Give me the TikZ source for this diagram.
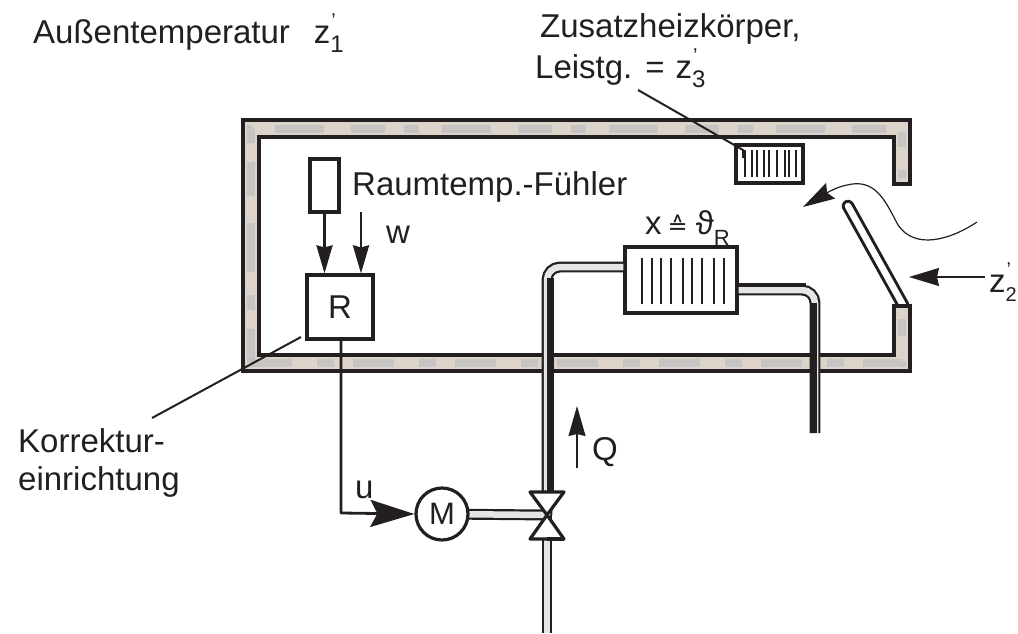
\documentclass[tikz,border=0pt]{standalone}
\usepackage{fontspec}
\setmainfont{Liberation Sans}
\newfontfamily\symfont{DejaVu Sans}
\usetikzlibrary{arrows.meta,positioning,calc}

\definecolor{wallfill}{HTML}{DCD3CB}
\definecolor{wallspot}{HTML}{A9AEBB}
\definecolor{ink}{HTML}{231F20}
\newcommand{\zprime}[2][24]{z\rlap{\raisebox{16pt}{\fontsize{20}{20}\selectfont\hspace{1pt}'}}\raisebox{-9pt}{\fontsize{#1}{#1}\selectfont #2}}

\begin{document}
\begin{tikzpicture}[
  x=1pt, y=-1pt,
  color=ink,
  >={Stealth[length=28pt,width=16pt,inset=2pt]},
  wall/.style={draw, fill=wallfill, line width=3.4pt, line join=miter},
  box/.style={draw, fill=white, line width=3.2pt, inner sep=0pt},
  label/.style={anchor=base west, inner sep=0pt, font=\fontsize{33}{38}\selectfont},
  pipe/.style={line width=2.2pt, double=black!10, double distance=6.5pt, rounded corners=13pt},
  straightpipe/.style={line width=2.2pt, double=black!10, double distance=6.5pt},
  hotpipe/.style={line width=7pt},
  bars/.style={line width=2.4pt},
  signal/.style={->, line width=2.6pt},
  leader/.style={line width=2pt}
]
  \useasboundingbox (0,0) rectangle (1018,633);

  % Flap
  \draw[line width=3pt, double=white, double distance=6.5pt, line cap=round] (848,206) -- (903,305);

  % Walls
  \draw[wall] (243,371) -- (243,120) -- (910,120) -- (910,184) -- (894,184) -- (894,137)
    -- (259,137) -- (259,355) -- (894,355) -- (894,306) -- (910,306) -- (910,371) -- cycle;
  \draw[wallspot, line width=8pt, opacity=.4, dash pattern=on 34pt off 19pt on 15pt off 23pt on 49pt off 27pt]
    (251,363) -- (251,129) -- (902,129) -- (902,178);
  \draw[wallspot, line width=8pt, opacity=.4, dash pattern=on 41pt off 25pt on 17pt off 19pt]
    (251,363) -- (902,363) -- (902,312);

  % Nodes
  \node[box, minimum width=29pt, minimum height=53pt] (sensor) at (324.5,185.5) {};
  \node[box, minimum width=66pt, minimum height=64pt, font=\fontsize{33}{38}\selectfont] (ctrl) at (340,307) {R};
  \node[box, minimum width=112pt, minimum height=66pt] (heater) at (681,280) {};
  \node[box, minimum width=67pt, minimum height=38pt] (extra) at (769.5,164) {};
  \coordinate (motorpos) at (442,514);
  \coordinate (valve) at (547,515);
  \coordinate (setpoint) at (361,212);
  \coordinate (turnu) at (341,513);
  \coordinate (pipeend) at (815,433);
  \coordinate (pipein) at (547,633);

  % Heater bars
  \foreach \barx in {642,652,661,671,683,692,702,714,724}
    \draw[bars] (\barx,258) -- (\barx,304);
  \foreach \barx in {745,752,757,764,769,777,785,789,796}
    \draw[bars] (\barx,150) -- (\barx,177);

  % Pipes
  \draw[pipe] (heater.west|-0,267) -- (547,267) -- (valve);
  \draw[pipe] (heater.east|-0,290) -- (815,290) -- (pipeend);
  \draw[hotpipe] (550.5,278) -- (550.5,493);
  \draw[hotpipe] (813,303) -- (pipeend-|813,0);
  \draw[line width=3.5pt] (heater.east|-0,285) -- (806,285);
  \draw[straightpipe] (pipein) -- (valve);
  \draw[straightpipe] (motorpos) -- (valve);
  \node[box, circle, minimum size=52pt, font=\fontsize{31}{36}\selectfont] (motor) at (motorpos) {M};

  % Valve
  \draw[line width=3.2pt, fill=white, line join=round] (valve) -- ++(-17,-23) -- ++(34,0) -- cycle;
  \draw[line width=3.2pt, fill=white, line join=round] (valve) -- ++(-17,24) -- ++(34,0) -- cycle;
  \draw[line width=4.5pt] (547,539) -- ($(valve)+(17,24)$);

  % Arrows
  \draw[signal] (sensor.south) -- (sensor.south|-ctrl.north);
  \draw[signal] (setpoint) -- (setpoint|-ctrl.north);
  \draw[line width=2.8pt, line join=round, -{Stealth[length=44pt,width=27pt,inset=7pt]}] (ctrl.south-|turnu) -- (turnu) -- (motor.west);
  \draw[->, line width=1.5pt, >={Stealth[length=30pt,width=17pt,inset=2pt]}] (577,468) -- (577,406);
  \draw[->, line width=1.5pt, >={Stealth[length=30pt,width=18pt,inset=2pt]}] (985,277) -- (909,277);
  \draw[->, line width=1.2pt, >={Stealth[length=32pt,width=18pt,inset=4pt]}] (977,222)
    .. controls (950,240) and (915,250) .. (898,225)
    .. controls (885,200) and (875,178) .. (847,185)
    .. controls (835,187) and (820,197) .. (803,207);

  % Leaders
  \draw[leader] (638,90) -- (743,150) -- (743,158);
  \draw[leader] (301,337) -- (152,418);

  % Labels
  \node[label] (outdoor) at (33,43) {Außentemperatur\hspace{24pt}\zprime{1}};
  \node[label] (extratext) at (540,37) {Zusatzheizkörper,};
  \node[label] (power) at (535,78) {Leistg.\hspace{13pt}=\hspace{11pt}\zprime{3}};
  \node[label] (sensortext) at (352,195) {Raumtemp.-Fühler};
  \node[label] (wtext) at (386,243) {w};
  \node[label] (xtext) at (645,234) {x\hspace{6pt}{\symfont\fontsize{24}{24}\selectfont≙}\hspace{8pt}ϑ\raisebox{-11pt}{\fontsize{22}{22}\selectfont R}};
  \node[label] (utext) at (355,498) {u};
  \node[label] (qtext) at (592,460) {Q};
  \node[label] (fixtext) at (18,452) {Korrektur-};
  \node[label] (fixtexttwo) at (18,490) {einrichtung};
  \node[label] (flaptext) at (989,292) {\zprime[20]{2}};
\end{tikzpicture}
\end{document}
